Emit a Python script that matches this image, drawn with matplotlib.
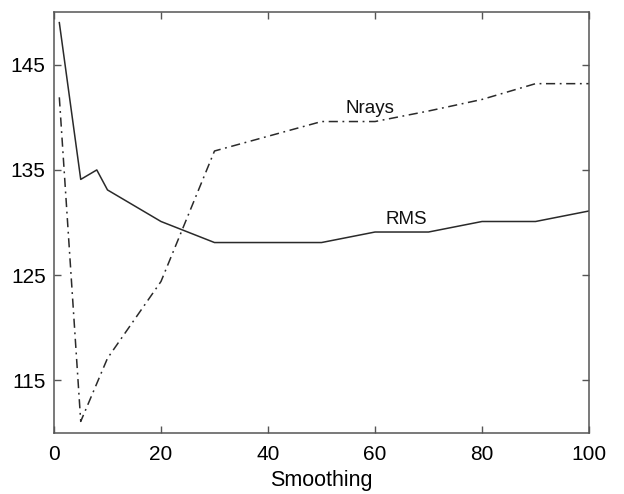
import matplotlib
matplotlib.use("Agg")
import matplotlib.pyplot as plt

plt.rcParams['font.family'] = ['Liberation Sans', 'DejaVu Sans']

smooth_rms = [1, 5, 8, 10, 20, 30, 50, 60, 70, 80, 90, 100]
rms = [149, 134.1, 135, 133.1, 130.1, 128.1, 128.1, 129.1, 129.1, 130.1, 130.1, 131.1]

smooth_nrays = [1, 5, 10, 20, 30, 50, 60, 70, 80, 90, 100]
nrays = [141.9, 111.1, 117.1, 124.4, 136.8, 139.6, 139.6, 140.6, 141.7, 143.2, 143.2]

xticks = [0, 20, 40, 60, 80, 100]
yticks = [115, 125, 135, 145]

fig = plt.figure(figsize=(6.24, 4.94), dpi=100)
ax = fig.add_axes([0.0865, 0.1235, 0.8575, 0.852])

line_col = '#2a2a2a'
ax.plot(smooth_rms, rms, color=line_col, lw=1.1)
ax.plot(smooth_nrays, nrays, color=line_col, lw=1.1, linestyle=(0, (6, 3, 1.2, 3)))

ax.text(59, 140.8, 'Nrays', fontsize=13.5, ha='center', va='center', color='#111111')
ax.text(65.8, 130.3, 'RMS', fontsize=13.5, ha='center', va='center', color='#111111')

ax.set_xlim(0, 100)
ax.set_ylim(110, 150)
ax.set_xticks(xticks)
ax.set_yticks(yticks)
ax.tick_params(direction='in', top=True, right=True, length=5, width=1,
               color='#555555', labelsize=15, pad=6)
ax.tick_params(axis='x', pad=9)
for s in ax.spines.values():
    s.set_color('#555555')
    s.set_linewidth(1.1)
ax.set_xlabel('Smoothing', fontsize=15.5, labelpad=4)

fig.savefig('out.png', dpi=100)
